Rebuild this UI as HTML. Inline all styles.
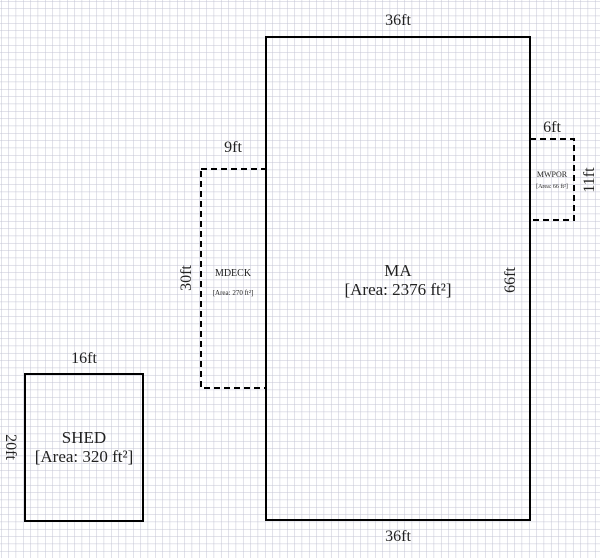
<!DOCTYPE html>
<html><head><style>
html,body{margin:0;padding:0;background:#fff;}
svg{display:block;}
text{font-family:"Liberation Serif",serif;fill:#222;}
</style></head><body>
<svg width="600" height="558" xmlns="http://www.w3.org/2000/svg">
<defs>
<pattern id="g" x="1" y="1" width="7.333" height="7.333" patternUnits="userSpaceOnUse">
<path d="M0 0H7.333M0 0V7.333" stroke="#c3c4d4" stroke-width="1" fill="none"/>
</pattern>
</defs>
<rect width="600" height="558" fill="#fff"/>
<rect width="600" height="558" fill="url(#g)"/>
<rect x="266" y="37" width="264" height="483" fill="none" stroke="#000" stroke-width="2"/>
<rect x="201" y="169" width="65" height="219" fill="none" stroke="#000" stroke-width="2" stroke-dasharray="6,4"/>
<rect x="530" y="139" width="44" height="81" fill="none" stroke="#000" stroke-width="2" stroke-dasharray="6,4"/>
<rect x="25" y="374" width="118" height="147" fill="none" stroke="#000" stroke-width="2"/>
<text x="398" y="25" font-size="16" text-anchor="middle">36ft</text>
<text x="398" y="541" font-size="16" text-anchor="middle">36ft</text>
<text x="398" y="276" font-size="17" text-anchor="middle">MA</text>
<text x="398" y="295" font-size="17" text-anchor="middle">[Area: 2376 ft²]</text>
<text transform="translate(515,280) rotate(-90)" font-size="16" text-anchor="middle">66ft</text>
<text x="233" y="152" font-size="16" text-anchor="middle">9ft</text>
<text transform="translate(191,278) rotate(-90)" font-size="16" text-anchor="middle">30ft</text>
<text x="233" y="276" font-size="10" text-anchor="middle">MDECK</text>
<text x="233" y="295" font-size="7" text-anchor="middle">[Area: 270 ft²]</text>
<text x="552" y="132" font-size="16" text-anchor="middle">6ft</text>
<text transform="translate(594,180) rotate(-90)" font-size="16" text-anchor="middle">11ft</text>
<text x="552" y="177" font-size="8" text-anchor="middle">MWPOR</text>
<text x="552" y="188" font-size="6" text-anchor="middle">[Area: 66 ft²]</text>
<text x="84" y="363" font-size="16" text-anchor="middle">16ft</text>
<text transform="translate(6,447) rotate(90)" font-size="16" text-anchor="middle">20ft</text>
<text x="84" y="443" font-size="17" text-anchor="middle">SHED</text>
<text x="84" y="462" font-size="17" text-anchor="middle">[Area: 320 ft²]</text>
</svg>
</body></html>
